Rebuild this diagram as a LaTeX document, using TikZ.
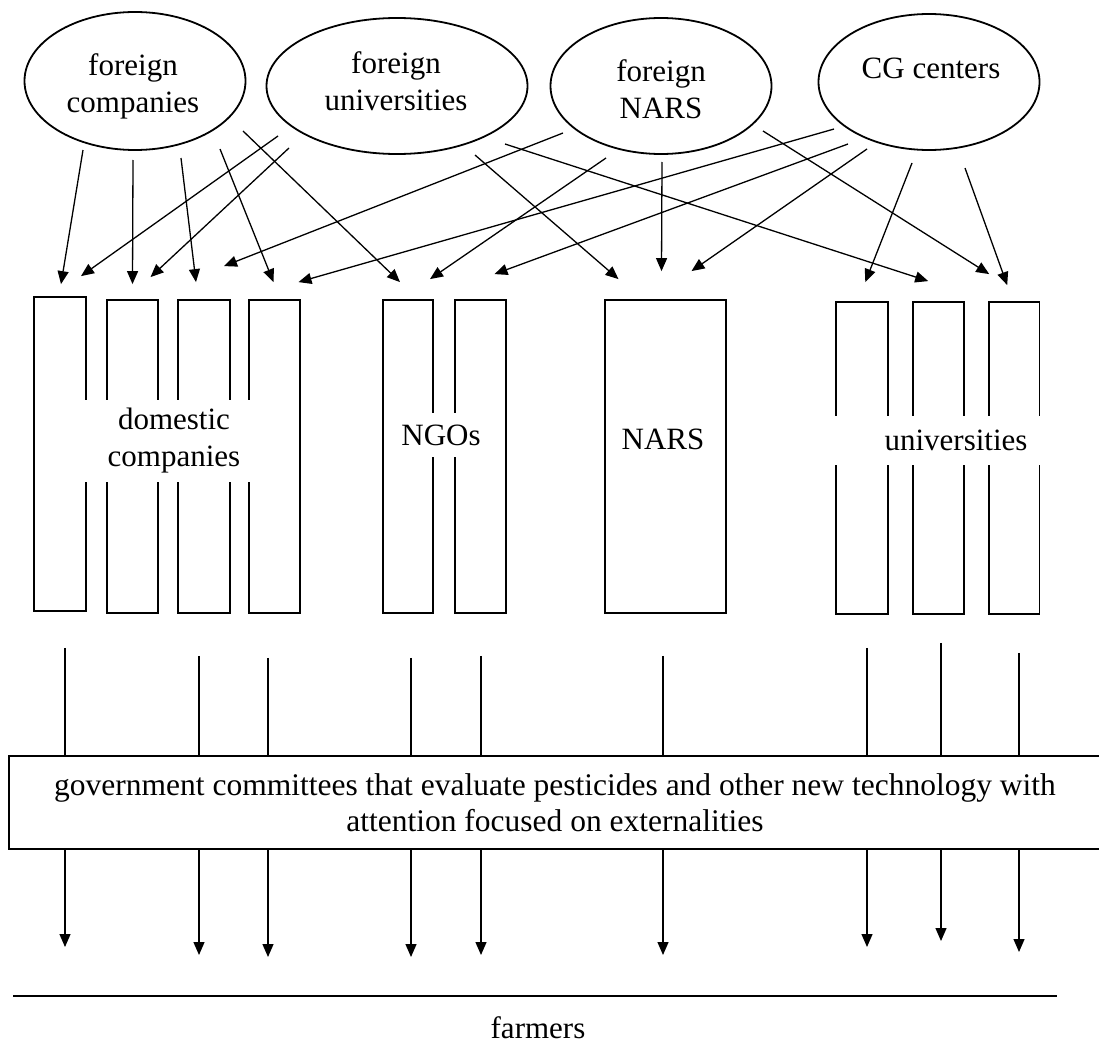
\documentclass[tikz,border=0pt]{standalone}
\usepackage{fontspec}
\setmainfont{Liberation Serif}
\usetikzlibrary{arrows.meta,shapes.geometric}
\begin{document}
\begin{tikzpicture}[x=1pt,y=-1pt,
  txt/.style={font=\fontsize{31}{37}\selectfont, align=center, inner sep=0pt},
  oval/.style={draw, ellipse, line width=1.8pt, inner sep=0pt},
  bar/.style={draw, rectangle, line width=1.8pt, inner sep=0pt, minimum height=313pt},
  gap/.style={txt, fill=white},
  arr/.style={line width=1.3pt, -{Triangle[length=13pt,width=11pt]}},
  vl/.style={line width=1.3pt}
]
\useasboundingbox (0,0) rectangle (1099,1046);

% source ellipses
\node[oval, minimum width=221pt, minimum height=138pt] (fc) at (135,81) {};
\node[oval, minimum width=261pt, minimum height=136pt] (fu) at (397,86) {};
\node[oval, minimum width=221pt, minimum height=136pt] (fn) at (661,86) {};
\node[oval, minimum width=221pt, minimum height=136pt] (cg) at (929,82) {};
\node[txt] (fct) at (133,86) {foreign\\companies};
\node[txt] (fut) at (396,81) {foreign\\universities};
\node[txt] (fnt) at (661,89) {foreign\\NARS};
\node[txt] (cgt) at (931,68) {CG centers};

% bars
\node[bar, minimum width=51.5pt, minimum height=314pt] (d1) at (60,454) {};
\node[bar, minimum width=51pt] (d2) at (132.5,456.5) {};
\node[bar, minimum width=52pt] (d3) at (204,456.5) {};
\node[bar, minimum width=51pt] (d4) at (274.5,456.5) {};
\node[bar, minimum width=50pt] (n1) at (408,456.5) {};
\node[bar, minimum width=51pt] (n2) at (480.5,456.5) {};
\node[bar, minimum width=121pt] (nars) at (665.5,456.5) {};
\node[bar, minimum width=52pt, minimum height=312pt] (u1) at (862.3,458) {};
\node[bar, minimum width=51pt, minimum height=312pt] (u2) at (938.2,458) {};
\node[bar, minimum width=50.5pt, minimum height=312pt] (u3) at (1014.2,458) {};

% group labels
\node[gap, minimum width=182pt, minimum height=82pt] (dom) at (174,441) {domestic\\companies};
\node[gap, minimum width=84pt, minimum height=44pt] (ngo) at (441,435) {NGOs};
\node[txt] (narst) at (663,439.5) {NARS};
\node[gap, minimum width=250pt, minimum height=49pt] (uni) at (956,440) {universities};

% government committees
\node[draw, line width=1.8pt, txt, font=\fontsize{31.5}{36}\selectfont, minimum width=1092pt, minimum height=93pt] (gov) at (555,802.5)
  {government committees that evaluate pesticides and other new technology with\\attention focused on externalities};

% farmers
\coordinate (fl1) at (13,996);
\coordinate (fl2) at (1057,996);
\draw[line width=1.8pt] (fl1) -- (fl2);
\node[txt] (farm) at (538,1028) {farmers};

% arrows from sources to bars
\draw[arr] ([shift={(-52,69)}]fc.center) -- ([shift={(1,-12)}]d1.north);
\draw[arr] ([shift={(-2,79)}]fc.center) -- ([shift={(0,-15)}]d2.north);
\draw[arr] ([shift={(46,77)}]fc.center) -- ([shift={(-8,-17)}]d3.north);
\draw[arr] ([shift={(85,68)}]fc.center) -- ([shift={(-1,-17)}]d4.north);
\draw[arr] ([shift={(108,50)}]fc.center) -- ([shift={(-8,-17)}]n1.north);

\draw[arr] ([shift={(-119,50)}]fu.center) -- ([shift={(21,-20)}]d1.north);
\draw[arr] ([shift={(-108,62)}]fu.center) -- ([shift={(18,-22)}]d2.north);
\draw[arr] ([shift={(78,69)}]fu.center) -- ([shift={(-47,-20)}]nars.north);
\draw[arr] ([shift={(108,58)}]fu.center) -- ([shift={(-10,-20)}]u2.north);

\draw[arr] ([shift={(-98,47)}]fn.center) -- ([shift={(20,-33)}]d3.north);
\draw[arr] ([shift={(-55,72)}]fn.center) -- ([shift={(22,-20)}]n1.north);
\draw[arr] ([shift={(1,76)}]fn.center) -- ([shift={(-4,-28)}]nars.north);
\draw[arr] ([shift={(102,45)}]fn.center) -- ([shift={(-25,-27)}]u3.north);

\draw[arr] ([shift={(-95,47)}]cg.center) -- ([shift={(24,-17)}]d4.north);
\draw[arr] ([shift={(-81,62)}]cg.center) -- ([shift={(14,-25)}]n2.north);
\draw[arr] ([shift={(-62,67)}]cg.center) -- ([shift={(26,-28)}]nars.north);
\draw[arr] ([shift={(-17,81)}]cg.center) -- ([shift={(3,-19)}]u1.north);
\draw[arr] ([shift={(36,86)}]cg.center) -- ([shift={(-7,-16)}]u3.north);

% lanes to committees and farmers
\coordinate (l1) at (65,0);
\coordinate (l2) at (199,0);
\coordinate (l3) at (268,0);
\coordinate (l4) at (411,0);
\coordinate (l5) at (481,0);
\coordinate (l6) at (663,0);
\coordinate (l7) at (867,0);
\coordinate (l8) at (941,0);
\coordinate (l9) at (1019,0);

\draw[vl, shorten <=36pt] (d1.south -| l1) -- (gov.north -| l1);
\draw[vl, shorten <=42pt] (d3.south -| l2) -- (gov.north -| l2);
\draw[vl, shorten <=44pt] (d4.south -| l3) -- (gov.north -| l3);
\draw[vl, shorten <=44pt] (n1.south -| l4) -- (gov.north -| l4);
\draw[vl, shorten <=42pt] (n2.south -| l5) -- (gov.north -| l5);
\draw[vl, shorten <=42pt] (nars.south -| l6) -- (gov.north -| l6);
\draw[vl, shorten <=33pt] (u1.south -| l7) -- (gov.north -| l7);
\draw[vl, shorten <=28pt] (u2.south -| l8) -- (gov.north -| l8);
\draw[vl, shorten <=38pt] (u3.south -| l9) -- (gov.north -| l9);

\draw[arr, shorten >=49pt] (gov.south -| l1) -- (fl1 -| l1);
\draw[arr, shorten >=41pt] (gov.south -| l2) -- (fl1 -| l2);
\draw[arr, shorten >=39pt] (gov.south -| l3) -- (fl1 -| l3);
\draw[arr, shorten >=39pt] (gov.south -| l4) -- (fl1 -| l4);
\draw[arr, shorten >=41pt] (gov.south -| l5) -- (fl1 -| l5);
\draw[arr, shorten >=41pt] (gov.south -| l6) -- (fl1 -| l6);
\draw[arr, shorten >=49pt] (gov.south -| l7) -- (fl1 -| l7);
\draw[arr, shorten >=55pt] (gov.south -| l8) -- (fl1 -| l8);
\draw[arr, shorten >=44pt] (gov.south -| l9) -- (fl1 -| l9);
\end{tikzpicture}
\end{document}
